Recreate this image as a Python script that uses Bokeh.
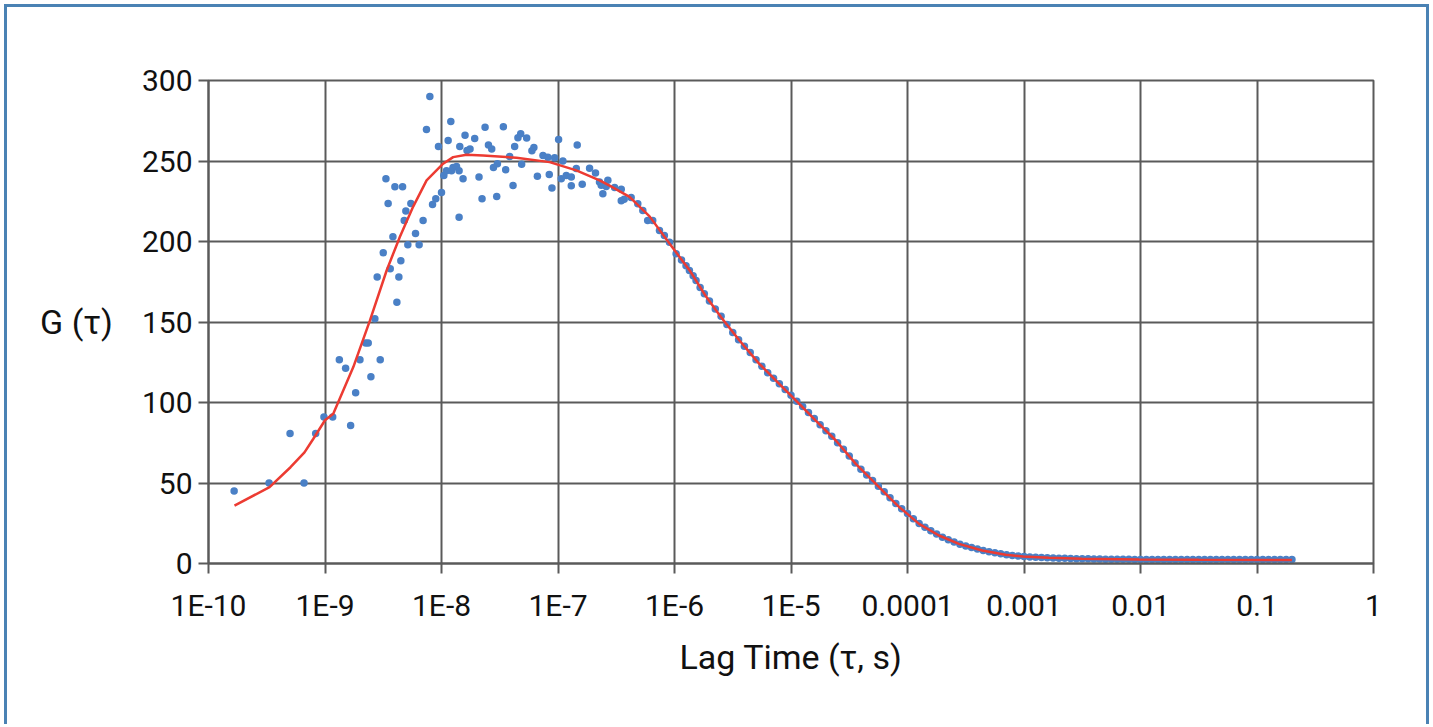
import numpy as np
from bokeh.plotting import figure
from bokeh.models import FixedTicker, ColumnDataSource
from bokeh.embed import file_html
from bokeh.resources import INLINE

# ---- measured autocorrelation points: log10(lag time / s), G(tau) ----
meas_log_tau = [
    -9.780, -9.480, -9.300, -9.180, -9.080, -9.009, -8.934, -8.877, -8.823, -8.780,
    -8.737, -8.700, -8.651, -8.629, -8.606, -8.572, -8.552, -8.526, -8.500, -8.477,
    -8.458, -8.440, -8.417, -8.400, -8.383, -8.366, -8.349, -8.334, -8.320, -8.306,
    -8.289, -8.263, -8.223, -8.192, -8.158, -8.129, -8.100, -8.077, -8.049, -8.026,
    -8.000, -7.980, -7.957, -7.943, -7.920, -7.914, -7.901, -7.871, -7.849, -7.849,
    -7.843, -7.815, -7.798, -7.781, -7.755, -7.715, -7.678, -7.652, -7.626, -7.597,
    -7.569, -7.554, -7.526, -7.520, -7.469, -7.449, -7.415, -7.386, -7.372, -7.344,
    -7.320, -7.312, -7.269, -7.224, -7.207, -7.177, -7.129, -7.087, -7.075, -7.052,
    -7.029, -6.995, -6.972, -6.958, -6.929, -6.886, -6.886, -6.843, -6.835, -6.792,
    -6.729, -6.678, -6.644, -6.629, -6.615, -6.586, -6.572, -6.514, -6.457, -6.457,
    -6.432, -6.372, -6.315, -6.272, -6.230, -6.187, -6.129, -6.087, -6.043, -5.986,
    -5.940, -5.901, -5.872, -5.840, -5.815, -5.780, -5.744,
    -5.70, -5.65, -5.60, -5.55, -5.50, -5.45, -5.40, -5.35, -5.30, -5.25,
    -5.20, -5.15, -5.10, -5.05, -5.00, -4.95, -4.90, -4.85, -4.80, -4.75,
    -4.70, -4.65, -4.60, -4.55, -4.50, -4.45, -4.40, -4.35, -4.30, -4.25,
    -4.20, -4.15, -4.10, -4.05, -4.00, -3.95, -3.90, -3.85, -3.80, -3.75,
    -3.70, -3.65, -3.60, -3.55, -3.50, -3.45, -3.40, -3.35, -3.30, -3.25,
    -3.20, -3.15, -3.10, -3.05, -3.00, -2.95, -2.90, -2.85, -2.80, -2.75,
    -2.70, -2.65, -2.60, -2.55, -2.50, -2.45, -2.40, -2.35, -2.30, -2.25,
    -2.20, -2.15, -2.10, -2.05, -2.00, -1.95, -1.90, -1.85, -1.80, -1.75,
    -1.70, -1.65, -1.60, -1.55, -1.50, -1.45, -1.40, -1.35, -1.30, -1.25,
    -1.20, -1.15, -1.10, -1.05, -1.00, -0.95, -0.90, -0.85, -0.80, -0.75,
    -0.70,
]
meas_g = [
    45.0, 50.0, 80.7, 50.0, 80.7, 91.0, 91.0, 126.5, 121.3, 85.7,
    106.0, 126.5, 137.0, 137.0, 116.0, 152.0, 178.0, 126.5, 193.0, 239.0,
    223.6, 183.0, 203.0, 234.0, 162.3, 178.0, 188.0, 234.0, 213.0, 219.0,
    198.0, 223.6, 205.0, 198.0, 213.0, 269.5, 290.0, 223.0, 226.5, 259.0,
    230.4, 241.0, 244.0, 262.7, 274.5, 244.0, 246.0, 246.6, 244.0, 215.0,
    259.0, 239.0, 266.0, 256.5, 257.5, 264.0, 240.0, 226.5, 271.0, 260.0,
    257.5, 246.0, 228.0, 248.3, 271.3, 244.6, 252.8, 234.8, 259.0, 264.5,
    267.0, 248.0, 264.3, 256.3, 258.4, 240.6, 253.4, 252.3, 241.6, 233.3,
    252.0, 263.4, 239.0, 250.0, 241.0, 234.6, 240.0, 245.3, 260.0, 235.5,
    245.5, 242.5, 237.0, 235.0, 229.6, 234.2, 238.0, 233.6, 232.5, 225.3,
    226.3, 227.3, 223.4, 219.3, 213.0, 213.0, 206.8, 203.7, 199.6, 192.4,
    188.5, 185.0, 182.0, 178.8, 175.8, 171.5, 167.5,
    163.0, 158.0, 153.5, 148.5, 143.5, 139.0, 135.0, 131.0, 126.5, 122.5,
    118.5, 115.0, 111.6, 108.0, 104.5, 100.8, 97.5, 93.8, 90.0, 86.2,
    82.5, 79.0, 75.0, 71.0, 66.8, 62.5, 58.5, 55.0, 51.5, 48.0,
    44.5, 40.8, 37.2, 34.0, 31.0, 27.8, 24.8, 22.5, 20.3, 18.3,
    16.3, 14.8, 13.3, 12.0, 10.9, 9.9, 9.0, 8.1, 7.3, 6.6,
    6.0, 5.5, 5.0, 4.6, 4.3, 4.1, 3.9, 3.7, 3.6, 3.4,
    3.3, 3.2, 3.1, 3.0, 2.9, 2.9, 2.8, 2.8, 2.7, 2.7,
    2.6, 2.6, 2.6, 2.5, 2.5, 2.5, 2.5, 2.5, 2.5, 2.5,
    2.5, 2.5, 2.5, 2.5, 2.5, 2.5, 2.5, 2.5, 2.5, 2.5,
    2.5, 2.5, 2.5, 2.5, 2.5, 2.5, 2.5, 2.5, 2.5, 2.5,
    2.5,
]

# ---- fitted curve: log10(lag time / s), G(tau) ----
fit_log_tau = [
    -9.777, -9.476, -9.296, -9.176, -9.100, -9.000, -8.929, -8.757, -8.614, -8.471,
    -8.357, -8.243, -8.128, -7.986, -7.900, -7.786, -7.643, -7.357, -7.072, -6.843,
    -6.643, -6.557, -6.386, -6.214, -6.043, -5.871, -5.729, -5.600, -5.444, -5.272,
    -5.101, -4.944, -4.787, -4.615, -4.444, -4.272, -4.144, -4.073, -3.901, -3.730,
    -3.559, -3.359, -3.158, -3.008, -2.787, -2.502, -2.013, -1.500, -0.700,
]
fit_g = [
    36.0, 47.4, 59.8, 69.0, 77.5, 89.0, 93.0, 122.0, 151.0, 182.0,
    203.0, 221.7, 238.0, 248.3, 252.4, 253.9, 253.4, 252.0, 249.3, 244.2,
    238.0, 234.7, 227.7, 215.6, 198.7, 182.2, 165.8, 153.0, 138.7, 124.0,
    111.6, 100.3, 88.8, 76.4, 61.9, 49.5, 40.2, 35.2, 24.6, 17.4,
    12.2, 8.1, 5.4, 4.3, 3.5, 2.9, 2.5, 2.3, 2.2,
]

x_tick_values = [1e-10, 1e-9, 1e-8, 1e-7, 1e-6, 1e-5, 1e-4, 1e-3, 1e-2, 1e-1, 1.0]
x_tick_labels = ["1E-10", "1E-9", "1E-8", "1E-7", "1E-6", "1E-5",
                 "0.0001", "0.001", "0.01", "0.1", "1"]
y_tick_values = [0, 50, 100, 150, 200, 250, 300]

FONT = "Roboto"
GRID = "#5a5a5a"
TXT = "#111111"

meas_src = ColumnDataSource(dict(x=10.0 ** np.array(meas_log_tau), y=meas_g))
fit_src = ColumnDataSource(dict(x=10.0 ** np.array(fit_log_tau), y=fit_g))

# canvas sits inside a 3px blue frame starting 4px from the window edge
p = figure(width=1425, height=720, x_axis_type="log",
           x_range=(1e-10, 1.0), y_range=(0, 300),
           output_backend="svg", toolbar_location=None,
           min_border_left=201, min_border_right=59,
           min_border_top=73, min_border_bottom=164,
           styles={"border-style": "solid solid none solid",
                   "border-width": "3px",
                   "border-color": "#4a82b4",
                   "margin-left": "4px",
                   "margin-top": "4px"})
p.background_fill_color = "white"
p.border_fill_color = "white"
p.outline_line_color = GRID
p.outline_line_width = 2

p.scatter("x", "y", source=meas_src, size=7.5, marker="circle",
          fill_color="#4a80c6", line_color=None)
p.line("x", "y", source=fit_src, line_color="#ec3b32", line_width=2.5)

# axes
p.xaxis.ticker = FixedTicker(ticks=x_tick_values)
p.xaxis.major_label_overrides = {v: s for v, s in zip(x_tick_values, x_tick_labels)}
p.yaxis.ticker = FixedTicker(ticks=y_tick_values)
for ax in (p.xaxis, p.yaxis):
    ax.axis_line_color = GRID
    ax.axis_line_width = 2
    ax.major_tick_line_color = GRID
    ax.major_tick_line_width = 2
    ax.major_tick_in = 0
    ax.major_tick_out = 10
    ax.minor_tick_line_color = None
    ax.major_label_text_font = FONT
    ax.major_label_text_font_size = "30px"
    ax.major_label_text_color = TXT
p.xaxis.major_label_standoff = 14
p.yaxis.major_label_standoff = 6

p.xaxis.axis_label = "Lag Time (τ, s)"
p.xaxis.axis_label_text_font = FONT
p.xaxis.axis_label_text_font_size = "34px"
p.xaxis.axis_label_text_font_style = "normal"
p.xaxis.axis_label_text_color = TXT
p.xaxis.axis_label_standoff = 11

p.yaxis.axis_label = "G (τ)"
p.yaxis.axis_label_orientation = "horizontal"
p.yaxis.axis_label_text_font = FONT
p.yaxis.axis_label_text_font_size = "34px"
p.yaxis.axis_label_text_font_style = "normal"
p.yaxis.axis_label_text_color = TXT
p.yaxis.axis_label_standoff = 26

p.xgrid.ticker = FixedTicker(ticks=x_tick_values)
p.ygrid.ticker = FixedTicker(ticks=y_tick_values)
for g in (p.xgrid, p.ygrid):
    g.grid_line_color = GRID
    g.grid_line_width = 2

open("out.html", "w").write(file_html(p, INLINE))
